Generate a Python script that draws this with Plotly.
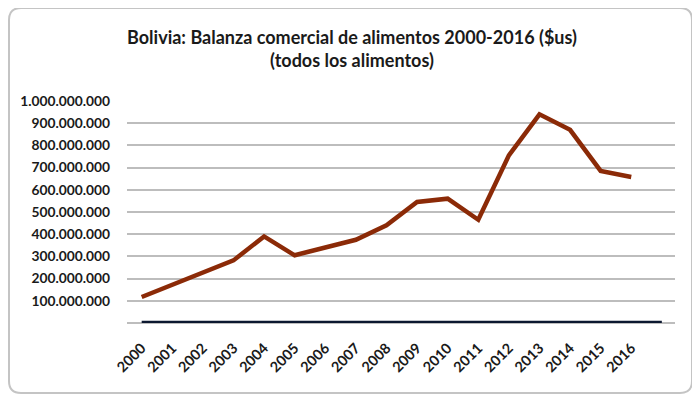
import plotly.graph_objects as go

years = list(range(2000, 2017))
balanza = [117e6, 172e6, 228e6, 282e6, 390e6, 305e6, 340e6, 375e6, 440e6,
           545e6, 560e6, 465e6, 755e6, 940e6, 870e6, 685e6, 658e6]
ytick_vals = [i * 100e6 for i in range(1, 11)]

# the page body adds an 8px margin, so the figure is 8px smaller
OFF = 8
W, H = 700 - OFF, 399 - OFF
L, R, T, B = 127 - OFF, 25, 101 - OFF, 76
pw, ph = W - L - R, H - T - B

def px(x):
    return (x - OFF - L) / pw

def py(y):
    return (H - B - (y - OFF)) / ph

fig = go.Figure()
fig.add_trace(go.Scatter(
    x=years, y=balanza, mode="lines",
    line=dict(color="#8B2A07", width=4.5),
    showlegend=False,
))

# rounded frame
x0, x1, y0, y1 = px(9), px(692), py(393), py(8)
rx, ry = 12 / pw, 12 / ph
path = (f"M {x0+rx},{y1} L {x1-rx},{y1} Q {x1},{y1} {x1},{y1-ry} "
        f"L {x1},{y0+ry} Q {x1},{y0} {x1-rx},{y0} "
        f"L {x0+rx},{y0} Q {x0},{y0} {x0},{y0+ry} "
        f"L {x0},{y1-ry} Q {x0},{y1} {x0+rx},{y1} Z")
shapes = [
    dict(type="path", xref="paper", yref="paper", path=path,
         line=dict(color="#c4c4c4", width=2), layer="below"),
    dict(type="line", xref="x", yref="y", x0=years[0], x1=years[-1] + 1,
         y0=0, y1=0, line=dict(color="#0c1830", width=4.5)),
]

fig.update_layout(
    width=W, height=H,
    margin=dict(l=L, r=R, t=T, b=B),
    paper_bgcolor="white", plot_bgcolor="white",
    separators=",.",
    font=dict(family="Lato", color="#1a1a1a"),
    title=dict(
        text="<b>Bolivia: Balanza comercial de alimentos 2000-2016 ($us)<br>(todos los alimentos)</b>",
        x=(352 - OFF) / W, xref="container", xanchor="center",
        y=1 - (44 - OFF) / H, yref="container", yanchor="middle",
        font=dict(family="Lato", size=18, color="#1a1a1a"),
    ),
    shapes=shapes,
    xaxis=dict(
        range=[1999.52, 2017.43], tickvals=years, ticktext=[str(y) for y in years],
        tickangle=-45, showgrid=False, showline=False, zeroline=False,
        ticks="", ticklabelstandoff=13,
        tickfont=dict(family="Lato", size=14.5, color="#1a1a1a", weight="bold"),
    ),
    yaxis=dict(
        range=[0, 1e9], tickvals=ytick_vals, tickformat=",d",
        showgrid=True, gridcolor="#bdbdbd", gridwidth=1.5,
        zeroline=True, zerolinecolor="#bdbdbd", zerolinewidth=1.5,
        showline=False, ticks="", ticklabelstandoff=16,
        tickfont=dict(family="Lato", size=13.8, color="#1a1a1a", weight="bold"),
    ),
)

fig.write_html("out.html")
